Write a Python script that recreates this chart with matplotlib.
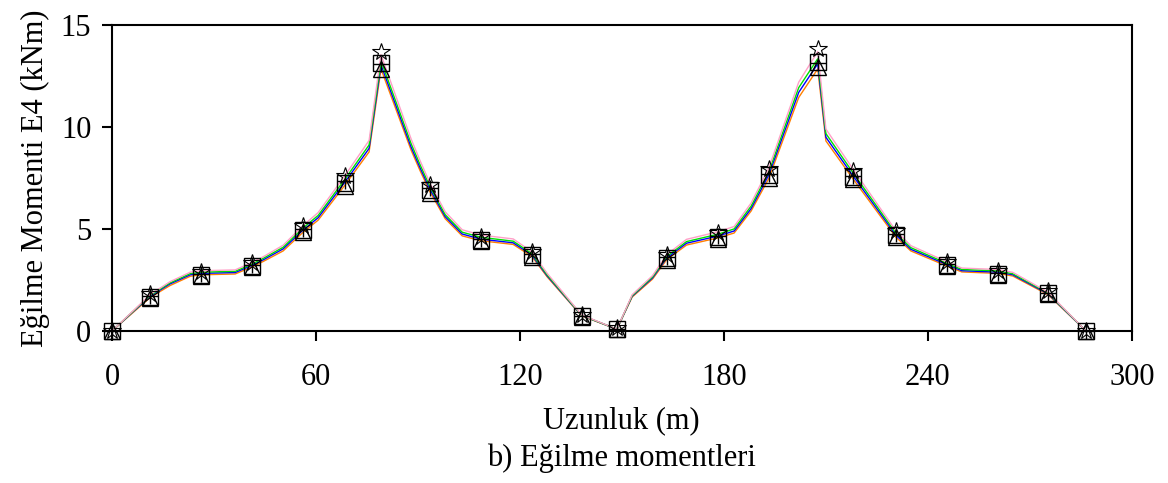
import matplotlib
matplotlib.use("Agg")
import matplotlib.pyplot as plt

plt.rcParams['font.family'] = ['Liberation Serif', 'DejaVu Serif']

# moment lines (fine mesh)
x_line = [0, 11.2, 17, 23, 26.2, 36.2, 41.2, 44.4, 50.3, 56.2, 60.6, 68.5, 75.6, 79.1,
          88, 90.6, 93.5, 98, 103, 108.5, 118, 123.5, 128, 136.8, 138.2, 148.5,
          153, 159, 163.2, 169, 178.2, 183, 188, 193.2, 202, 207.6, 210, 218,
          230.6, 235, 245.6, 250, 260.6, 265, 275.3, 286.5]

m_orange = [0, 1.64, 2.22, 2.68, 2.75, 2.79, 3.14, 3.40, 3.92, 4.84, 5.43, 7.15, 8.78, 12.85,
            8.85, 7.86, 6.83, 5.50, 4.66, 4.42, 4.24, 3.65, 2.65, 0.98, 0.73, 0.08,
            1.66, 2.54, 3.50, 4.21, 4.56, 4.80, 5.88, 7.48, 11.45, 12.85, 9.32, 7.45,
            4.60, 3.92, 3.18, 2.89, 2.82, 2.69, 1.78, 0]
m_blue = [0, 1.70, 2.30, 2.75, 2.82, 2.86, 3.22, 3.48, 4.02, 4.95, 5.55, 7.30, 8.95, 13.05,
          9.00, 8.00, 6.95, 5.60, 4.75, 4.50, 4.32, 3.72, 2.70, 1.00, 0.75, 0.08,
          1.70, 2.60, 3.58, 4.30, 4.65, 4.90, 6.00, 7.65, 11.70, 13.10, 9.50, 7.60,
          4.70, 4.00, 3.25, 2.95, 2.88, 2.75, 1.82, 0]
m_green = [0, 1.74, 2.35, 2.81, 2.88, 2.92, 3.28, 3.55, 4.10, 5.05, 5.66, 7.44, 9.12, 13.25,
           9.17, 8.15, 7.08, 5.70, 4.84, 4.59, 4.40, 3.79, 2.75, 1.02, 0.76, 0.08,
           1.73, 2.65, 3.65, 4.38, 4.74, 5.00, 6.12, 7.80, 11.93, 13.35, 9.68, 7.75,
           4.79, 4.08, 3.31, 3.01, 2.94, 2.80, 1.86, 0]
m_pink = [0, 1.78, 2.41, 2.88, 2.95, 2.99, 3.36, 3.63, 4.20, 5.17, 5.80, 7.62, 9.34, 13.55,
          9.40, 8.35, 7.25, 5.84, 4.96, 4.70, 4.51, 3.88, 2.82, 1.05, 0.78, 0.08,
          1.77, 2.71, 3.74, 4.49, 4.86, 5.12, 6.27, 7.98, 12.20, 13.70, 9.90, 7.93,
          4.91, 4.18, 3.39, 3.08, 3.01, 2.87, 1.90, 0]

# marker series (coarse points)
x_mark = [0, 11.2, 26.2, 41.2, 56.2, 68.5, 79.1, 93.5, 108.5, 123.5, 138.2, 148.5,
          163.2, 178.2, 193.2, 207.6, 218, 230.6, 245.6, 260.6, 275.3, 286.5]
m_square = [0, 1.65, 2.75, 3.2, 4.95, 7.25, 13.15, 6.9, 4.45, 3.7, 0.75, 0.1,
            3.55, 4.6, 7.65, 13.2, 7.55, 4.7, 3.25, 2.8, 1.85, 0]
m_triangle = [0, 1.6, 2.7, 3.15, 4.85, 7.1, 12.85, 6.75, 4.4, 3.6, 0.7, 0.08,
              3.5, 4.5, 7.5, 12.95, 7.45, 4.6, 3.2, 2.75, 1.8, 0]
m_plus = [0, 1.7, 2.8, 3.25, 5.0, 7.35, 13.1, 7.0, 4.5, 3.75, 0.75, 0.1,
          3.6, 4.65, 7.7, 13.15, 7.6, 4.75, 3.3, 2.85, 1.85, 0]
m_star = [0, 1.8, 2.9, 3.35, 5.15, 7.6, 13.7, 7.15, 4.6, 3.85, 0.8, 0.12,
          3.7, 4.8, 7.95, 13.85, 7.85, 4.9, 3.4, 2.95, 1.95, 0]

fig = plt.figure(figsize=(11.68, 4.83), dpi=100)
ax = fig.add_axes([0.096, 0.315, 0.873, 0.633])

ax.plot(x_line, m_orange, color='#ff8000', lw=1.0)
ax.plot(x_line, m_blue, color='#0000ff', lw=1.0)
ax.plot(x_line, m_green, color='#00e000', lw=1.0)
ax.plot(x_line, m_pink, color='#ffa0c8', lw=1.0)

mk = dict(ls='none', mec='black', clip_on=False, zorder=6)
ax.plot(x_mark, m_square, marker='s', ms=12, mfc='none', mew=1.0, **mk)
ax.plot(x_mark, m_triangle, marker='^', ms=12, mfc='none', mew=1.0, **mk)
ax.plot(x_mark, m_plus, marker='+', ms=12, mew=1.0, **mk)
ax.plot(x_mark, m_star, marker='*', ms=13, mfc='none', mew=0.8, **mk)

ax.set_xlim(0, 300)
ax.set_ylim(0, 15)
ax.set_xticks([0, 60, 120, 180, 240, 300])
ax.set_yticks([0, 5, 10, 15])
ax.tick_params(direction='out', length=7, width=1.5, labelsize=22, pad=8)
ax.tick_params(axis='x', pad=16)
for s in ax.spines.values():
    s.set_linewidth(1.5)
    s.set_zorder(5)

ax.set_ylabel('Eğilme Momenti E4 (kNm)', fontsize=22, labelpad=8)
fig.text(0.532, 0.128, 'Uzunluk (m)', ha='center', va='center', fontsize=22)
fig.text(0.532, 0.052, 'b) Eğilme momentleri', ha='center', va='center', fontsize=22)

fig.savefig('out.png', dpi=100)
